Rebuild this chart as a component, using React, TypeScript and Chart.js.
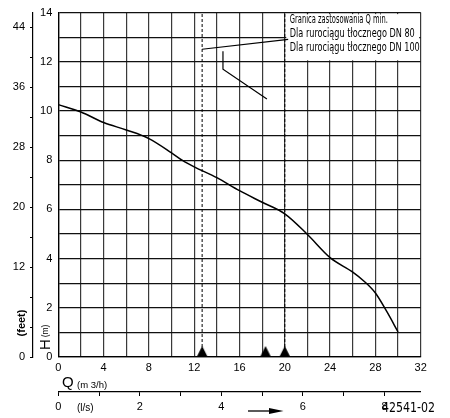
import { useEffect, useRef } from 'react';
import { Chart, registerables } from 'chart.js';

Chart.register(...registerables);

// pump curve H(Q)
const flowM3h = [0, 2, 4, 6, 8, 10, 11, 12, 14, 16, 18, 20, 22, 24, 26, 27, 28, 29, 30];
const headM = [10.26, 9.96, 9.53, 9.23, 8.88, 8.3, 7.98, 7.73, 7.29, 6.76, 6.29, 5.82, 4.98, 4.04, 3.45, 3.08, 2.6, 1.85, 1.02];

// Q min limits (dashed) and the triangles on the axis
const qMinLines = [12.7, 20];
const markerFlows = [12.7, 18.3, 20];

// leader lines from the notes
const leaderAQ = [12.7, 20.3];
const leaderAH = [12.51, 12.91];
const leaderBQ = [14.54, 14.54, 18.42];
const leaderBH = [12.43, 11.7, 10.49];

const feetLabels = [0, 12, 20, 28, 36, 44];
const lsLabels = [0, 2, 4, 6, 8];
const noteLines = ['Granica zastosowania Q min.', 'Dla rurociągu tłocznego DN 80', 'Dla rurociągu tłocznego DN 100'];

const FONT = '"Liberation Sans", Arial, sans-serif';
const NARROW = '"Liberation Sans Narrow", "DejaVu Sans Condensed", sans-serif';

const pts = (xs: number[], ys: number[]) => xs.map((x, i) => ({ x, y: ys[i] }));

function triangleImage() {
    const c = document.createElement('canvas');
    c.width = 12;
    c.height = 24;
    const g = c.getContext('2d')!;
    g.fillStyle = '#000';
    g.beginPath();
    g.moveTo(6, 1);
    g.lineTo(11.5, 12);
    g.lineTo(0.5, 12);
    g.closePath();
    g.fill();
    return c;
}

const notesPlugin = {
    id: 'notes',
    beforeDatasetsDraw(chart: any) {
        const { ctx, scales } = chart;
        const x = scales.x, y = scales.y;
        const l = x.getPixelForValue(20) + 1.5, r = x.getPixelForValue(32) - 1.5;
        const t = y.getPixelForValue(14) + 1.5, b = y.getPixelForValue(12) - 1.5;
        ctx.save();
        ctx.fillStyle = '#fff';
        ctx.fillRect(l, t, r - l, b - t);
        ctx.restore();
    },
    afterDraw(chart: any) {
        const { ctx, scales } = chart;
        const x0 = scales.x.getPixelForValue(20) + 5;
        ctx.save();
        ctx.fillStyle = '#000';
        ctx.textBaseline = 'alphabetic';
        ctx.font = `13px ${NARROW}`;
        const baselines = [22.5, 37, 50.5];
        const widths = [98, 125, 130];
        noteLines.forEach((s, i) => ctx.fillText(s, x0, baselines[i], widths[i]));

        // rotated axis titles on the left
        const rot = (s: string, cx: number, cy: number, font: string, maxW?: number) => {
            ctx.save();
            ctx.translate(cx, cy);
            ctx.rotate(-Math.PI / 2);
            ctx.font = font;
            ctx.textAlign = 'center';
            ctx.textBaseline = 'middle';
            ctx.fillText(s, 0, 0, maxW);
            ctx.restore();
        };
        rot('(feet)', 22, 323, `bold 11px ${FONT}`, 30);
        rot('H', 45.5, 344.5, `15px ${FONT}`);
        rot('(m)', 45.5, 331, `8.5px ${FONT}`);

        // Q title
        ctx.font = `15px ${FONT}`;
        ctx.fillText('Q', 62, 386.5);
        ctx.font = `9.5px ${FONT}`;
        ctx.fillText('(m 3/h)', 77, 388, 38);

        ctx.textBaseline = 'middle';
        ctx.font = `10px ${FONT}`;
        ctx.fillText('(l/s)', 77, 408.5, 23);

        // arrow
        ctx.strokeStyle = '#000';
        ctx.lineWidth = 1.3;
        ctx.beginPath();
        ctx.moveTo(248, 411);
        ctx.lineTo(272, 411);
        ctx.stroke();
        ctx.beginPath();
        ctx.moveTo(269, 408);
        ctx.lineTo(283.5, 411);
        ctx.lineTo(269, 414);
        ctx.closePath();
        ctx.fill();

        ctx.font = `14px ${NARROW}`;
        ctx.fillText('42541-02', 382, 408, 53);
        ctx.restore();
    },
};

const PumpCurve = () => {
    const chartRef = useRef<HTMLCanvasElement | null>(null);

    useEffect(() => {
        const ctx = chartRef.current?.getContext('2d');
        if (!ctx) return;

        Chart.defaults.font.family = FONT;
        Chart.defaults.color = '#000';
        const tri = triangleImage();
        const line = { showLine: true, pointRadius: 0, borderColor: '#000', fill: false };

        const myChart = new Chart(ctx, {
            type: 'scatter',
            data: {
                datasets: [
                    { ...line, data: pts(flowM3h, headM), borderWidth: 1.5, cubicInterpolationMode: 'monotone' },
                    ...qMinLines.map((q) => ({
                        ...line,
                        data: [{ x: q, y: 0 }, { x: q, y: 14 }],
                        borderWidth: 1,
                        borderDash: [3, 2],
                    })),
                    { ...line, data: pts(leaderAQ, leaderAH), borderWidth: 1.2 },
                    { ...line, data: pts(leaderBQ, leaderBH), borderWidth: 1.2 },
                    {
                        data: markerFlows.map((q) => ({ x: q, y: 0 })),
                        pointStyle: tri as any,
                        pointRadius: 6,
                        showLine: false,
                    },
                ],
            },
            options: {
                animation: false,
                responsive: true,
                maintainAspectRatio: false,
                layout: { padding: { left: 0, top: 11.5, right: 29.3, bottom: 0 } },
                plugins: { legend: { display: false }, tooltip: { enabled: false } },
                scales: {
                    x: {
                        type: 'linear',
                        position: 'bottom',
                        weight: 0,
                        min: 0,
                        max: 32,
                        afterFit: (s: any) => { s.height = 35; },
                        grid: { color: '#3a3a3a', lineWidth: 1.2, drawTicks: false },
                        border: { color: '#000', width: 1.3 },
                        ticks: {
                            stepSize: 2,
                            padding: 4,
                            maxRotation: 0,
                            autoSkip: false,
                            font: { size: 11 },
                            callback: (v: any) => (v % 4 === 0 ? String(v) : ''),
                        },
                    },
                    ls: {
                        type: 'linear',
                        position: 'bottom',
                        weight: 1,
                        display: true,
                        min: 0,
                        max: 32 / 3.6,
                        afterFit: (s: any) => { s.height = 26; },
                        grid: { drawOnChartArea: false, tickLength: 4, color: '#000', lineWidth: 1 },
                        border: { color: '#000', width: 1.2 },
                        ticks: {
                            stepSize: 1,
                            includeBounds: false,
                            padding: 4,
                            maxRotation: 0,
                            autoSkip: false,
                            font: { size: 11 },
                            callback: (v: any) => (lsLabels.includes(v) ? String(v) : ''),
                        },
                    },
                    y: {
                        type: 'linear',
                        position: 'left',
                        weight: 0,
                        min: 0,
                        max: 14,
                        afterFit: (s: any) => { s.width = 25.3; },
                        grid: { color: '#111', lineWidth: 1.3, drawTicks: false },
                        border: { color: '#000', width: 1.3 },
                        ticks: {
                            stepSize: 1,
                            padding: 6,
                            autoSkip: false,
                            font: { size: 11 },
                            callback: (v: any) => (v % 2 === 0 ? String(v) : ''),
                        },
                    },
                    feet: {
                        type: 'linear',
                        position: 'left',
                        weight: 1,
                        display: true,
                        min: 0,
                        max: 14 * 3.28084,
                        afterFit: (s: any) => { s.width = 33; },
                        grid: { drawOnChartArea: false, tickLength: 3, color: '#000', lineWidth: 1 },
                        border: { color: '#000', width: 1.2 },
                        ticks: {
                            stepSize: 4,
                            includeBounds: false,
                            padding: 5,
                            autoSkip: false,
                            font: { size: 11 },
                            callback: (v: any) => (feetLabels.includes(v) ? String(v) : ''),
                        },
                    },
                },
            },
            plugins: [notesPlugin],
        } as any);

        return () => {
            myChart.destroy();
        };
    }, []);

    return (
        <div style={{ position: 'fixed', left: 0, top: 0, width: 450, height: 418, background: '#fff' }}>
            <canvas ref={chartRef} />
        </div>
    );
};

export default PumpCurve;
